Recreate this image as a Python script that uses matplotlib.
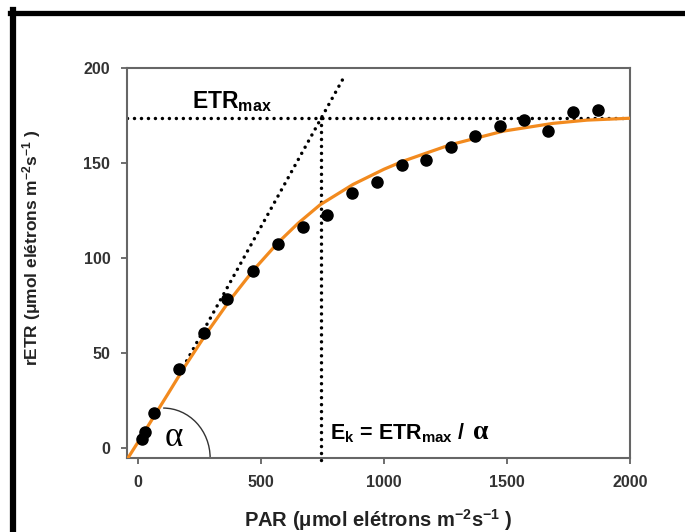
import numpy as np
import matplotlib
matplotlib.use("Agg")
from matplotlib import pyplot as plt
from matplotlib.lines import Line2D
from matplotlib.patches import Arc

plt.rcParams["font.family"] = ["Liberation Sans", "DejaVu Sans"]
plt.rcParams["mathtext.fontset"] = "custom"
plt.rcParams["mathtext.rm"] = "Liberation Sans:bold"
plt.rcParams["mathtext.bf"] = "Liberation Sans:bold"
plt.rcParams["mathtext.it"] = "Liberation Sans:bold"
plt.rcParams["mathtext.default"] = "rm"

# measured points
par = [16, 28, 65, 167, 268, 362, 467, 569, 671, 768, 870, 971, 1073,
       1171, 1272, 1370, 1471, 1569, 1667, 1768, 1870]
retr = [5.2, 8.9, 18.4, 42.0, 60.9, 78.7, 93.4, 107.6, 116.5, 122.8, 134.4,
        140.2, 149.1, 151.7, 158.5, 164.3, 169.6, 172.7, 166.9, 176.9, 178.0]

# fitted curve
fit_par = [-45, 0, 60, 122, 187, 280, 374, 470, 569, 650, 740, 874, 1000,
           1077, 1268, 1484, 1687, 1825, 2000]
fit_retr = [-5.8, 3.4, 15.9, 28.8, 42.5, 60.9, 78.1, 93.9, 108.2, 118.3,
            128.1, 138.8, 146.8, 151.0, 159.6, 166.8, 170.9, 172.6, 173.6]

etr_max = 173.5
e_k = 744
alpha = etr_max / e_k

x_ticks = [0, 500, 1000, 1500, 2000]
y_ticks = [0, 50, 100, 150, 200]

fig = plt.figure(figsize=(6.85, 5.32), dpi=100)
ax = fig.add_axes([127 / 685, 1 - 458 / 532, 503 / 685, 390 / 532])

ax.set_xlim(-45, 2000)
ax.set_ylim(-5, 200)

dots = dict(color="black", lw=2.5, dashes=(0.01, 2.0),
            dash_capstyle="round")
ax.plot([-45, 2000], [etr_max, etr_max], **dots)
ax.plot([e_k, e_k], [etr_max, -7], clip_on=False, **dots)
slope_x = np.array([170, 835])
ax.plot(slope_x, alpha * slope_x, **dots)

ax.plot(fit_par, fit_retr, color="#f28a1e", lw=2.3, zorder=3)
ax.plot(par, retr, "o", color="black", ms=8, zorder=4)

# angle arc and labels
ax.add_patch(Arc((102, -5), 382, 52.5, theta1=0, theta2=90,
                 color="#333333", lw=1))
ax.text(145, 6, "α", family=["Liberation Serif", "DejaVu Serif"],
        fontsize=25, ha="center", va="center")
ax.text(220, 179, r"ETR$_{max}$", fontsize=16.5, fontweight="bold",
        ha="left", va="baseline")
ek = ax.text(780, 5, r"E$_k$ = ETR$_{max}$ /", fontsize=15.5,
             fontweight="bold", ha="left", va="baseline")
ax.annotate("α", xy=(1, 0), xycoords=ek, xytext=(5, 0),
            textcoords="offset points", va="bottom", ha="left",
            family=["Liberation Serif", "DejaVu Serif"], fontsize=20,
            fontweight="bold")

ax.set_xticks(x_ticks)
ax.set_yticks(y_ticks)
ax.tick_params(direction="out", length=4, width=1.2, color="#555555",
               labelsize=11.5, labelcolor="#333333", pad=8)
for lab in ax.get_xticklabels() + ax.get_yticklabels():
    lab.set_fontweight("bold")
for sp in ax.spines.values():
    sp.set_color("#666666")
    sp.set_linewidth(1.5)

ax.set_xlabel("PAR (μmol elétrons m$^{-2}$s$^{-1}$ )", fontsize=14.5,
              fontweight="bold", color="#222222")
ax.set_ylabel("rETR (μmol elétrons m$^{-2}$s$^{-1}$ )", fontsize=12.5,
              fontweight="bold", color="#222222")
ax.xaxis.set_label_coords(0.5, -0.125)
ax.yaxis.set_label_coords(-0.167, 0.54)

# black frame of the original image
fig.add_artist(Line2D([13 / 685, 13 / 685], [0, 1 - 10 / 532],
                      transform=fig.transFigure, color="black", lw=4.5))
fig.add_artist(Line2D([10 / 685, 1], [1 - 12.5 / 532, 1 - 12.5 / 532],
                      transform=fig.transFigure, color="black", lw=3.8))

fig.savefig("out.png", dpi=100)
